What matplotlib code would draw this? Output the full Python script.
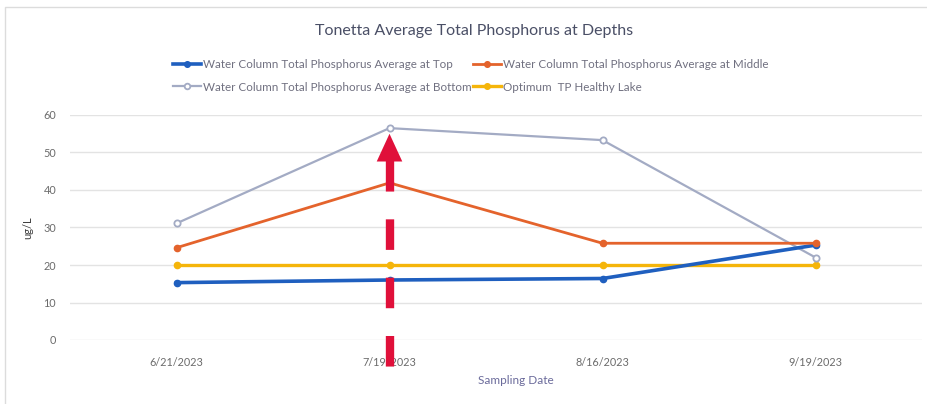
import matplotlib
matplotlib.use("Agg")
import matplotlib.pyplot as plt
from matplotlib.patches import Polygon, Rectangle
from matplotlib.lines import Line2D

plt.rcParams['font.family'] = ['Lato', 'DejaVu Sans']
plt.rcParams['lines.scale_dashes'] = False

dates = ["6/21/2023", "7/19/2023", "8/16/2023", "9/19/2023"]
top = [15.3, 16.0, 16.4, 25.3]
middle = [24.6, 41.9, 25.8, 25.8]
bottom = [31.1, 56.5, 53.3, 22.0]
optimum = [20, 20, 20, 20]
yticks = [0, 10, 20, 30, 40, 50, 60]

labels = ["Water Column Total Phosphorus Average at Top",
          "Water Column Total Phosphorus Average at Middle",
          "Water Column Total Phosphorus Average at Bottom",
          "Optimum  TP Healthy Lake"]

W, H = 928, 404
fig = plt.figure(figsize=(W / 100, H / 100), dpi=100)
fig.patch.set_facecolor("white")
fig.add_artist(Rectangle((5 / W, -0.01), 1.0, (H - 7) / H + 0.01, transform=fig.transFigure,
                         fill=False, edgecolor="#dcdcdc", linewidth=1.0))

ax = fig.add_axes([70 / W, (H - 340) / H, (922 - 70) / W, (340 - 115) / H])
x = list(range(len(dates)))

c_top, c_mid, c_bot, c_opt = "#1f5fbf", "#e4632c", "#a3abc4", "#f5b50a"
h_top, = ax.plot(x, top, color=c_top, lw=2.6, marker="o", ms=4.5, label=labels[0], zorder=4)
h_mid, = ax.plot(x, middle, color=c_mid, lw=2.0, marker="o", ms=4.5, label=labels[1], zorder=4)
h_bot, = ax.plot(x, bottom, color=c_bot, lw=1.6, marker="o", ms=4.5, mfc="white", mew=1.3,
                 label=labels[2], zorder=3)
h_opt, = ax.plot(x, optimum, color=c_opt, lw=2.4, marker="o", ms=4.5, label=labels[3], zorder=2)

ax.set_xlim(-0.5, 3.5)
ax.set_ylim(0, 60)
ax.set_yticks(yticks)
ax.set_xticks(x)
ax.set_xticklabels(dates)
ax.grid(axis="y", color="#e3e3e3", linewidth=1.0)
ax.set_axisbelow(True)
for s in ax.spines.values():
    s.set_visible(False)
ax.tick_params(axis="both", length=0, labelsize=7.8, labelcolor="#6b6b6b")
ax.tick_params(axis="x", pad=12)
ax.tick_params(axis="y", pad=10)

ax.set_ylabel("ug/L", fontsize=8, color="#404040")
ax.yaxis.set_label_coords((33 - 70) / (922 - 70), 0.5)
ax.set_xlabel("Sampling Date", fontsize=8.5, color="#6b6b9b")
ax.xaxis.set_label_coords((516 - 70) / (922 - 70), -(375 - 340) / (340 - 115))

fig.text(474 / W, 1 - 31 / H, "Tonetta Average Total Phosphorus at Depths",
         ha="center", va="center", fontsize=11.5, color="#4a4f66")

# column-major fill: col 1 = Top, Bottom ; col 2 = Middle, Optimum
leg = fig.legend([h_top, h_bot, h_mid, h_opt],
                 [labels[0], labels[2], labels[1], labels[3]],
                 loc="center left", ncol=2,
                 bbox_to_anchor=(163 / W, 1 - 76 / H), frameon=False,
                 fontsize=8.4, labelcolor="#707080", handlelength=2.4,
                 handletextpad=0.15, columnspacing=0.1, labelspacing=0.95,
                 markerscale=0.9)

# red annotation arrow at the second sampling date
red = "#e0103a"
ax.add_line(Line2D([1, 1], [47.6, -10.1], color=red, lw=6, solid_capstyle="butt",
                   dashes=(22, 20), clip_on=False, zorder=6))
head = Polygon([[0.94, 47.6], [1.06, 47.6], [1.0, 55.0]], closed=True,
               facecolor=red, edgecolor="none", clip_on=False, zorder=6)
ax.add_patch(head)

fig.savefig("out.png", dpi=100)
